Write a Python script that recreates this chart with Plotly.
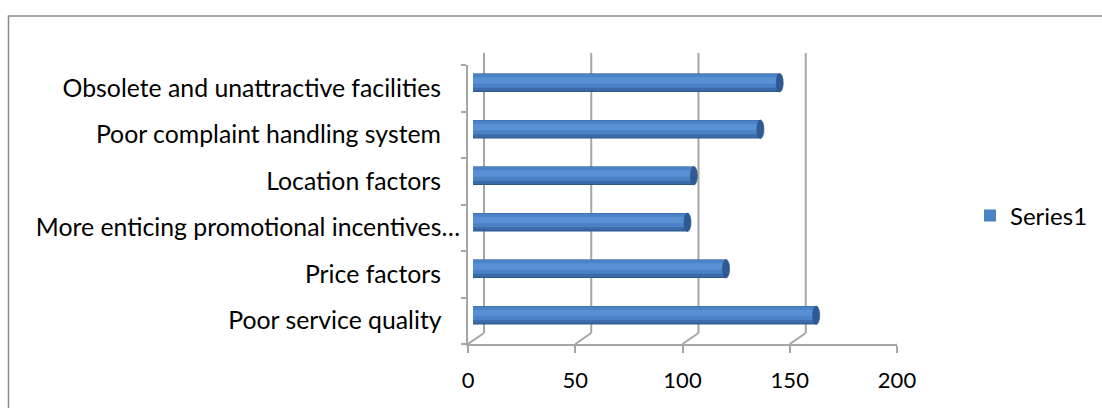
import plotly.graph_objects as go

W, H = 1102, 408

# Categories listed bottom-to-top as they appear on the value axis
categories = [
    "Poor service quality",
    "Price factors",
    "More enticing promotional incentives…",
    "Location factors",
    "Poor complaint handling system",
    "Obsolete and unattractive facilities",
]
values = [160, 118, 100, 103, 134, 143]
x_ticks = [0, 50, 100, 150, 200]
series_name = "Series1"

FONT = "Lato"
GRID = "#a6a6a6"
DEPTH_X = 16   # pixel offset of the back wall


def px_x(p):
    return p / W


def px_y(p):
    return 1 - p / H


positions = list(range(len(categories)))

# trailing padding so the untruncated labels sit a bit further from the axis
tick_text = [c if c.endswith("…") else c + "\u00a0" * 3 for c in categories]

fig = go.Figure()

# Cylinder shading: stacked bands of the same bar, darkest at the bottom
bands = [
    dict(offset=-0.20, width=0.40, color="#2d568d", legend=False),
    dict(offset=-0.175, width=0.37, color="#3b6aa8", legend=False),
    dict(offset=-0.11, width=0.30, color="#4b82c5", legend=True),
    dict(offset=-0.02, width=0.14, color="#5790d3", legend=False),
]
for b in bands:
    fig.add_trace(go.Bar(
        x=values, y=positions, orientation="h",
        offset=b["offset"], width=b["width"],
        marker=dict(color=b["color"], line=dict(width=0)),
        name=series_name, showlegend=b["legend"],
        xaxis="x2", yaxis="y2", hoverinfo="skip",
    ))

shapes = []
# back wall gridlines
for v in x_ticks:
    shapes.append(dict(
        type="line", layer="below",
        xref="x", xsizemode="pixel", xanchor=v, x0=DEPTH_X, x1=DEPTH_X,
        yref="paper", y0=px_y(333), y1=px_y(53),
        line=dict(color=GRID, width=2),
    ))
# floor depth edges from the front axis to the back wall
for v in x_ticks:
    shapes.append(dict(
        type="line", layer="below",
        xref="x", xsizemode="pixel", xanchor=v, x0=0, x1=DEPTH_X,
        yref="y", ysizemode="pixel", yanchor=-0.5, y0=0, y1=11,
        line=dict(color=GRID, width=2),
    ))
# top edge of the side wall
shapes.append(dict(
    type="line", layer="below",
    xref="x", xsizemode="pixel", xanchor=0, x0=0, x1=DEPTH_X,
    yref="y", ysizemode="pixel", yanchor=len(categories) - 0.5, y0=0, y1=12,
    line=dict(color=GRID, width=2),
))
# rounded cylinder ends
for v, p in zip(values, positions):
    shapes.append(dict(
        type="circle", layer="above",
        xref="x2", xsizemode="pixel", xanchor=v, x0=-3.5, x1=3.5,
        yref="y2", y0=p - 0.2, y1=p + 0.2,
        fillcolor="#2f5a94", line=dict(color="#29507f", width=0.6),
    ))
# chart area border
shapes.append(dict(
    type="rect", xref="paper", yref="paper",
    x0=px_x(8.5), x1=1.05, y0=-0.1, y1=px_y(16),
    line=dict(color="#8a8a8a", width=1.5), fillcolor="rgba(0,0,0,0)",
))

fig.update_layout(
    width=W, height=H,
    margin=dict(l=0, r=0, t=0, b=0, autoexpand=False),
    paper_bgcolor="white", plot_bgcolor="rgba(0,0,0,0)",
    barmode="overlay",
    font=dict(family=FONT, size=22, color="#000000"),
    shapes=shapes,
    showlegend=True,
    legend=dict(
        x=px_x(970), xanchor="left", y=px_y(216), yanchor="middle",
        bgcolor="rgba(0,0,0,0)", font=dict(family=FONT, size=24),
        itemwidth=30,
    ),
    # front axes: value labels and category labels
    xaxis=dict(
        domain=[px_x(468), px_x(897)], range=[0, 200], anchor="y",
        tickmode="array", tickvals=x_ticks,
        ticks="outside", ticklen=7, tickwidth=2, tickcolor=GRID,
        showline=True, linecolor=GRID, linewidth=2,
        showgrid=False, zeroline=False, ticklabelstandoff=9,
        tickfont=dict(family=FONT, size=22), automargin=False,
    ),
    yaxis=dict(
        domain=[px_y(344), px_y(65)], range=[-0.5, len(categories) - 0.5],
        anchor="x",
        tickmode="array", tickvals=positions, ticktext=tick_text, ticks="",
        minor=dict(tickmode="array",
                   tickvals=[p - 0.5 for p in positions] + [len(categories) - 0.5],
                   ticks="outside", ticklen=5, tickwidth=2, tickcolor=GRID,
                   showgrid=False),
        showline=True, linecolor=GRID, linewidth=2,
        showgrid=False, zeroline=False, ticklabelstandoff=1,
        tickfont=dict(family=FONT, size=24.8), automargin=False,
    ),
    # mid-depth plane holding the cylinders
    xaxis2=dict(
        domain=[px_x(473), px_x(902)], range=[0, 200], anchor="y2",
        visible=False, fixedrange=True,
    ),
    yaxis2=dict(
        domain=[px_y(338.5), px_y(59.5)], range=[-0.5, len(categories) - 0.5],
        anchor="x2", visible=False, fixedrange=True,
    ),
)

fig.write_html("out.html")
